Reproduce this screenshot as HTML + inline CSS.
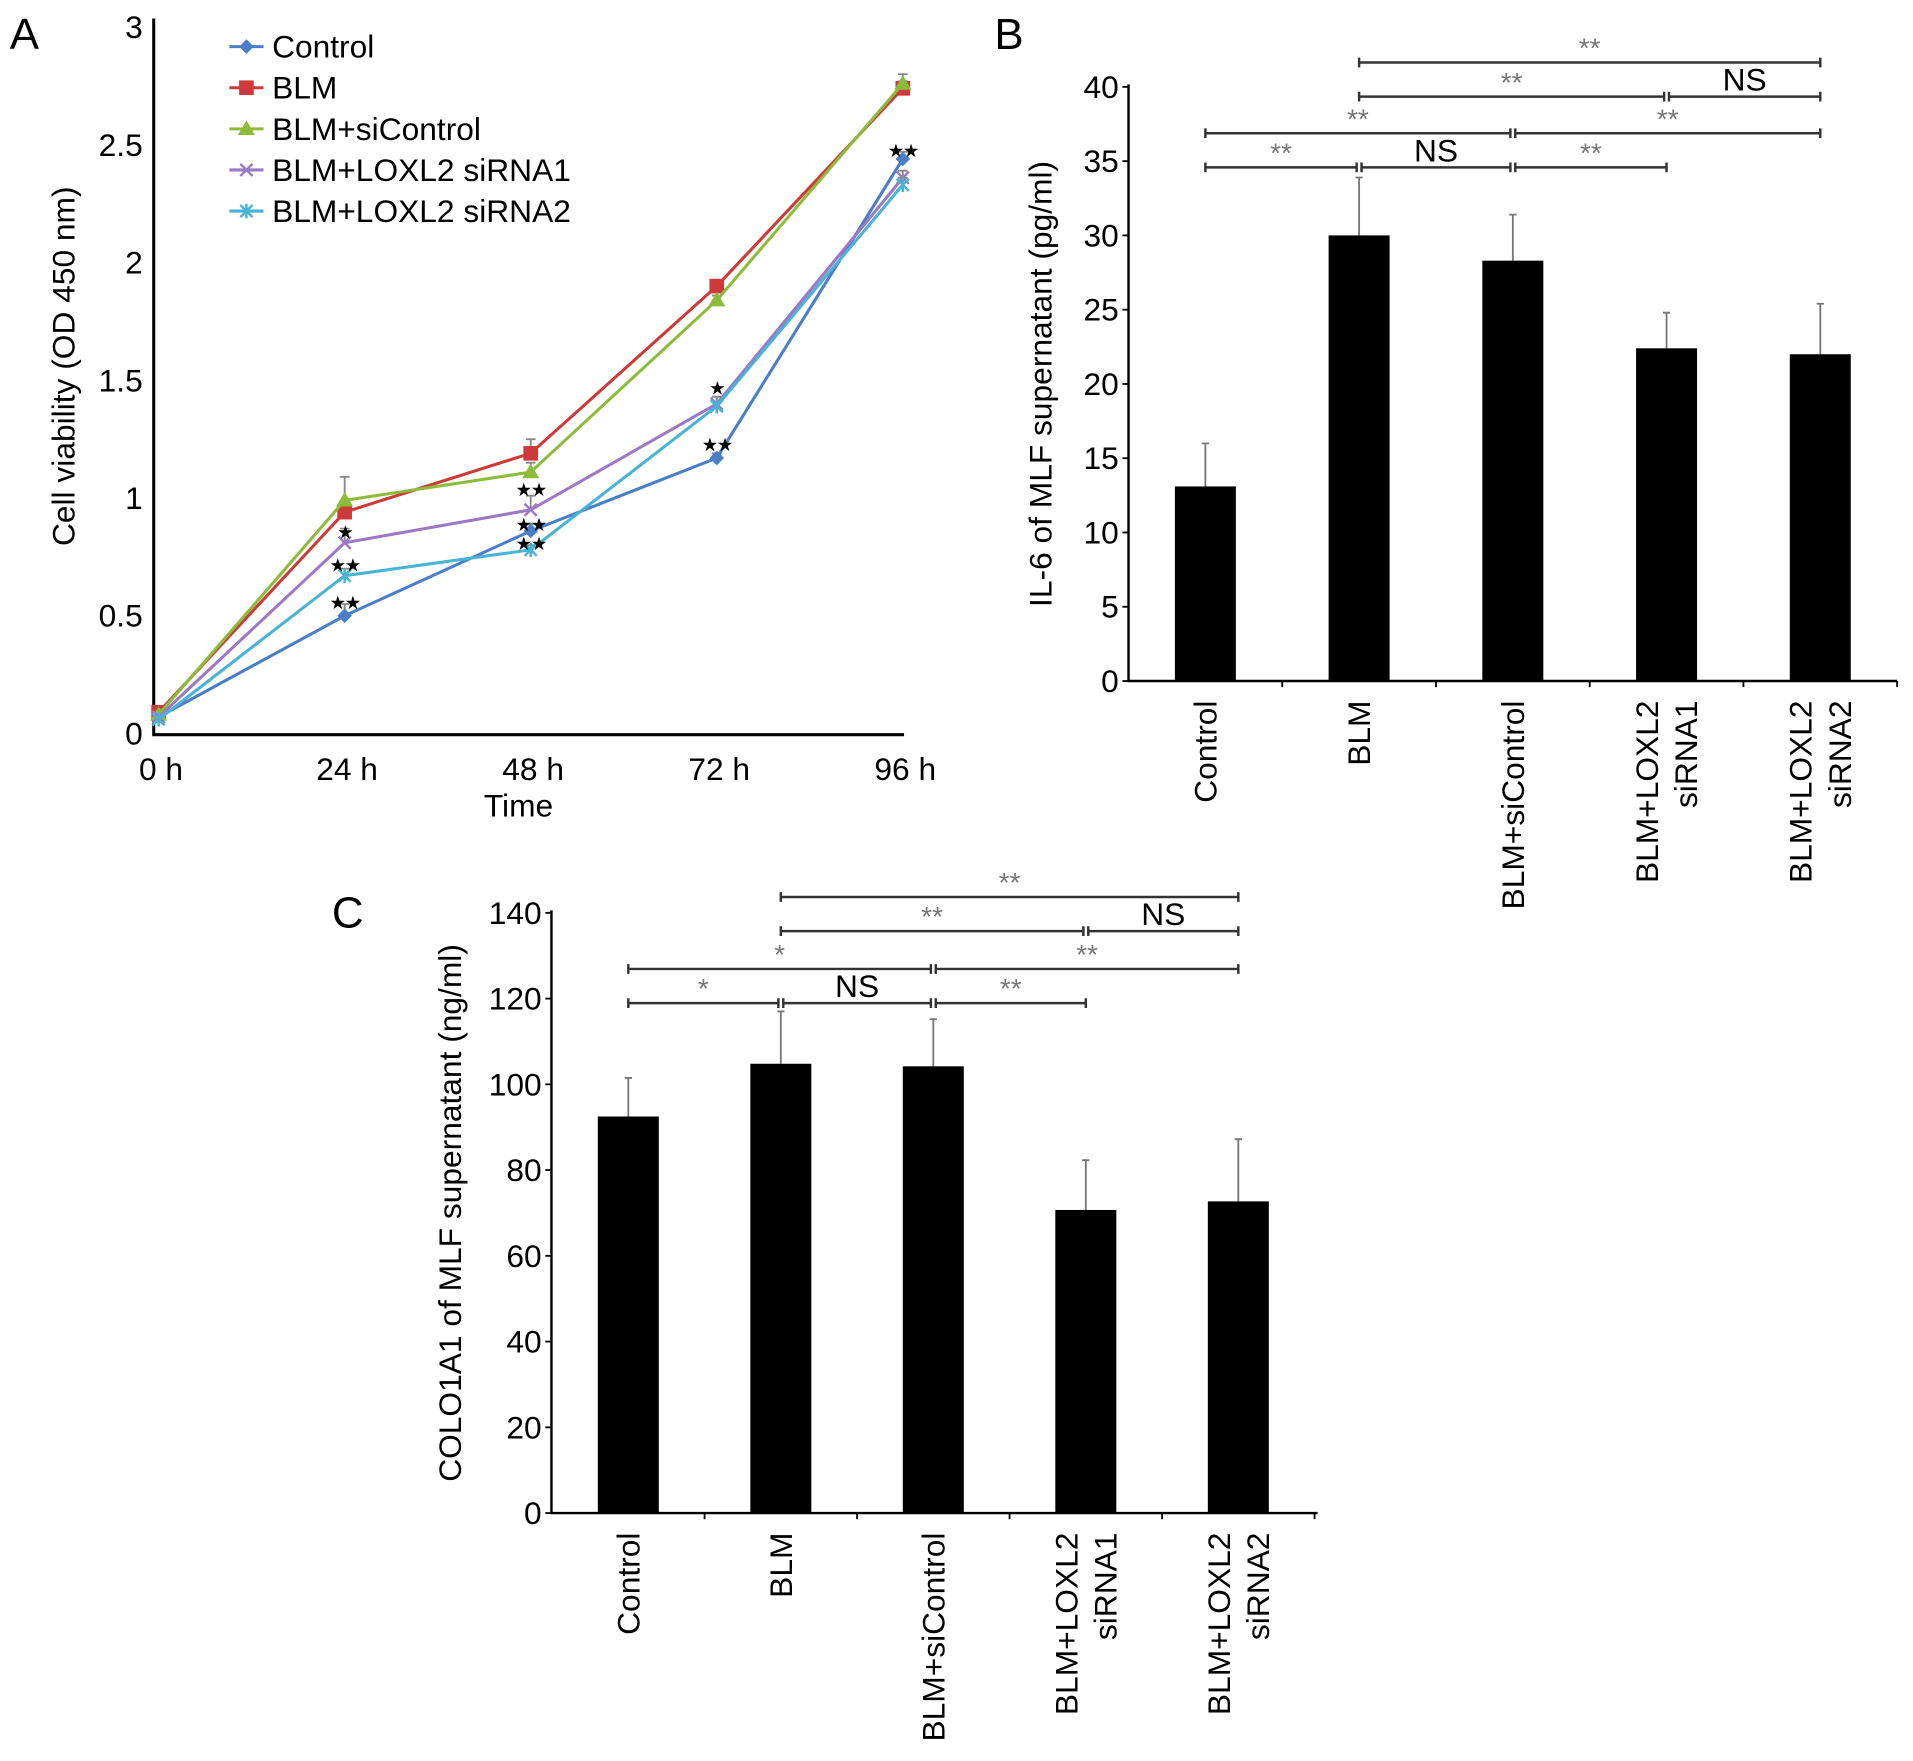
<!DOCTYPE html>
<html><head><meta charset="utf-8">
<style>
html,body{margin:0;padding:0;background:#fff;}
svg{display:block;font-family:"Liberation Sans",Arial,sans-serif;}
</style></head>
<body>
<svg id="fig" width="1913" height="1761" viewBox="0 0 1568 1443" xmlns="http://www.w3.org/2000/svg">
<g id="pa"></g>
<g id="pb"></g>
<g id="pc"></g>
</svg>
<script>
// ---- Panel A data ----
const timeLabels = ["0 h","24 h","48 h","72 h","96 h"];
const seriesNames = ["Control","BLM","BLM+siControl","BLM+LOXL2 siRNA1","BLM+LOXL2 siRNA2"];
const controlVals = [0.07,0.50,0.86,1.17,2.44];
const blmVals = [0.09,0.94,1.19,1.90,2.74];
const siControlVals = [0.08,0.99,1.11,1.84,2.76];
const siRNA1Vals = [0.07,0.81,0.95,1.40,2.36];
const siRNA2Vals = [0.06,0.67,0.78,1.39,2.33];
const controlErr = [0.01,0.05,0.03,0.02,0.03];
const blmErr = [0.01,0.04,0.06,0.02,0.03];
const siControlErr = [0.01,0.10,0.04,0.02,0.04];
const siRNA1Err = [0.01,0.06,0.06,0.03,0.03];
const siRNA2Err = [0.01,0.03,0.02,0.04,0.03];
const aTicks = [0,0.5,1,1.5,2,2.5,3];
const aTickLabels = ["0","0.5","1","1.5","2","2.5","3"];
const aSig = [[1,0.86,"*"],[1,0.72,"**"],[1,0.56,"**"],[2,1.04,"**"],[2,0.89,"**"],[2,0.81,"**"],[3,1.47,"*"],[3,1.23,"**"],[4,2.48,"**"]];

// ---- Panel B data ----
const categories = ["Control","BLM","BLM+siControl","BLM+LOXL2|siRNA1","BLM+LOXL2|siRNA2"];
const il6Vals = [13.1,30.0,28.3,22.4,22.0];
const il6Err = [2.9,3.9,3.1,2.4,3.4];
const bTicks = [0,5,10,15,20,25,30,35,40];
const bBrackets = [[1,4,0,"**"],[1,3,1,"**"],[3,4,1,"NS"],[0,2,2,"**"],[2,4,2,"**"],[0,1,3,"**"],[1,2,3,"NS"],[2,3,3,"**"]];

// ---- Panel C data ----
const colVals = [92.5,104.8,104.2,70.7,72.7];
const colErr = [9.0,12.2,11.0,11.6,14.5];
const cTicks = [0,20,40,60,80,100,120,140];
const cBrackets = [[1,4,0,"**"],[1,3,1,"**"],[3,4,1,"NS"],[0,2,2,"*"],[2,4,2,"**"],[0,1,3,"*"],[1,2,3,"NS"],[2,3,3,"**"]];

const NS="http://www.w3.org/2000/svg";
function mk(parent,tag,attrs,text){
  const e=document.createElementNS(NS,tag);
  for(const k in attrs)e.setAttribute(k,attrs[k]);
  if(text!==undefined)e.textContent=text;
  parent.appendChild(e);return e;
}

// ===== Panel A =====
(function(){
  const g=document.getElementById('pa');
  const x0=130,x1=740,yB=601,yT=22;
  const xs=i=>x0+(x1-x0)*i/(timeLabels.length-1);
  const ys=v=>yB-(yB-yT)*v/3;
  let t=mk(g,'text',{x:8,y:40,'font-size':36},'A');
  
  let ax=mk(g,'path',{d:`M126 15V${yB+1}H741`,stroke:'#000','stroke-width':2.5,fill:'none'});
  
  aTicks.forEach((v,i)=>{
    const l=mk(g,'text',{x:117,y:ys(v)+9,'font-size':26,'text-anchor':'end'},aTickLabels[i]);
    
  });
  timeLabels.forEach((s,i)=>{
    const l=mk(g,'text',{x:xs(i)+2,y:639,'font-size':26,'text-anchor':'middle'},s);
    
  });
  t=mk(g,'text',{x:425,y:669,'font-size':26,'text-anchor':'middle'},'Time');
  
  t=mk(g,'text',{x:0,y:0,'font-size':26,'text-anchor':'middle',transform:'translate(61,300) rotate(-90)'},'Cell viability (OD 450 nm)');
  
  const all=[controlVals,blmVals,siControlVals,siRNA1Vals,siRNA2Vals];
  const errs=[controlErr,blmErr,siControlErr,siRNA1Err,siRNA2Err];
  const cols=['#4a7fc8','#cc3a3a','#8dbb3a','#9b79c4','#49b3d6'];
  const marker=(p,k,x,y)=>{
    let m;
    if(k===0)m=mk(p,'path',{d:`M${x} ${y-6}L${x+6} ${y}L${x} ${y+6}L${x-6} ${y}Z`,fill:cols[k]});
    else if(k===1)m=mk(p,'rect',{x:x-6,y:y-6,width:12,height:12,fill:cols[k]});
    else if(k===2)m=mk(p,'path',{d:`M${x} ${y-7}L${x+7} ${y+5}L${x-7} ${y+5}Z`,fill:cols[k]});
    else m=mk(p,'path',{d:`M${x-5} ${y-5}L${x+5} ${y+5}M${x+5} ${y-5}L${x-5} ${y+5}`+(k===4?`M${x} ${y-6}V${y+6}`:''),stroke:cols[k],'stroke-width':2});
    
  };
  all.forEach((vals,k)=>{
    const sg=mk(g,'g',{});
    
    vals.forEach((v,i)=>{
      const e=mk(sg,'path',{d:`M${xs(i)} ${ys(v)}V${ys(v+errs[k][i])}M${xs(i)-4} ${ys(v+errs[k][i])}H${xs(i)+4}`,stroke:'#888','stroke-width':1.5});
      
    });
    const ln=mk(sg,'polyline',{points:vals.map((v,i)=>xs(i)+','+ys(v)).join(' '),fill:'none',stroke:cols[k],'stroke-width':2.5});
    
    vals.forEach((v,i)=>marker(sg,k,xs(i),ys(v)));
    const ly=38+k*33.7;
    const lg=mk(g,'g',{});
    
    mk(lg,'line',{x1:188,x2:216,y1:ly,y2:ly,stroke:cols[k],'stroke-width':2.5});
    marker(lg,k,202,ly);
    mk(lg,'text',{x:223,y:ly+9,'font-size':26},seriesNames[k]);
  });
  aSig.forEach(s=>{
    const l=mk(g,'text',{x:xs(s[0]),y:ys(s[1])+6,'font-size':15,'text-anchor':'middle','letter-spacing':'-1'},s[2].replace(/\*/g,'★'));
    
  });
})();

// ===== Bar panels =====
function barPanel(id,label,lx,ly,axX,yB,yT,ymax,ticks,vals,errs,centers,xEnd,brY,brs,title,titleX){
  const g=document.getElementById(id);
  const ys=v=>yB-(yB-yT)*v/ymax;
  let t=mk(g,'text',{x:lx,y:ly,'font-size':36},label);
  
  const ax=mk(g,'path',{d:`M${axX} ${yT-2}V${yB}H${xEnd}`,stroke:'#000','stroke-width':2,fill:'none'});
  
  const step=centers[1]-centers[0];
  centers.forEach(c=>mk(g,'line',{x1:c+step/2,x2:c+step/2,y1:yB,y2:yB+5,stroke:'#000','stroke-width':1.5}));
  ticks.forEach(v=>{
    mk(g,'line',{x1:axX-5,x2:axX,y1:ys(v),y2:ys(v),stroke:'#000','stroke-width':1.5});
    const l=mk(g,'text',{x:axX-8,y:ys(v)+9,'font-size':26,'text-anchor':'end'},String(v));
    
  });
  t=mk(g,'text',{x:0,y:0,'font-size':26,'text-anchor':'middle',transform:`translate(${titleX},${(yB+yT)/2}) rotate(-90)`},title);
  
  vals.forEach((v,i)=>{
    const c=centers[i];
    const e=mk(g,'path',{d:`M${c} ${ys(v)}V${ys(v+errs[i])}M${c-3} ${ys(v+errs[i])}H${c+3}`,stroke:'#777','stroke-width':1.5});
    
    const b=mk(g,'rect',{x:c-25,y:ys(v),width:50,height:yB-ys(v),fill:'#000'});
    
    const parts=categories[i].split('|');
    parts.forEach((p,j)=>{
      const dx=(parts.length===1?9:-7+j*32);
      const l=mk(g,'text',{x:0,y:0,'font-size':26,'text-anchor':'end',transform:`translate(${c+dx},${yB+16}) rotate(-90)`},p);
      
    });
  });
  brs.forEach(br=>{
    const a=centers[br[0]]+(br[0]>0&&brs.some(o=>o[1]===br[0]&&o[2]===br[2])?2:0);
    const bEnd=centers[br[1]]-(brs.some(o=>o[0]===br[1]&&o[2]===br[2])?2:0);
    const y=brY[br[2]];
    const gg=mk(g,'g',{});
    
    mk(gg,'path',{d:`M${a} ${y-4}V${y+4}M${a} ${y}H${bEnd}M${bEnd} ${y-4}V${y+4}`,stroke:'#333','stroke-width':2,fill:'none'});
    const isNS=br[3]==='NS';
    mk(gg,'text',{x:(a+bEnd)/2,y:y-(isNS?5:4),'font-size':isNS?26:23,'text-anchor':'middle',fill:isNS?'#000':'#777'},br[3]);
  });
}
barPanel('pb','B',815,40,925,558,71,40,bTicks,il6Vals,il6Err,[988,1114,1240,1366,1492],1555,[51,79,109,137],bBrackets,'IL-6 of MLF supernatant (pg/ml)',862);
barPanel('pc','C',272,760,452,1240,748,140,cTicks,colVals,colErr,[515,640,765,890,1015],1080,[735,763,794,822],cBrackets,'COLO1A1 of MLF supernatant (ng/ml)',378);
</script>
</body></html>
